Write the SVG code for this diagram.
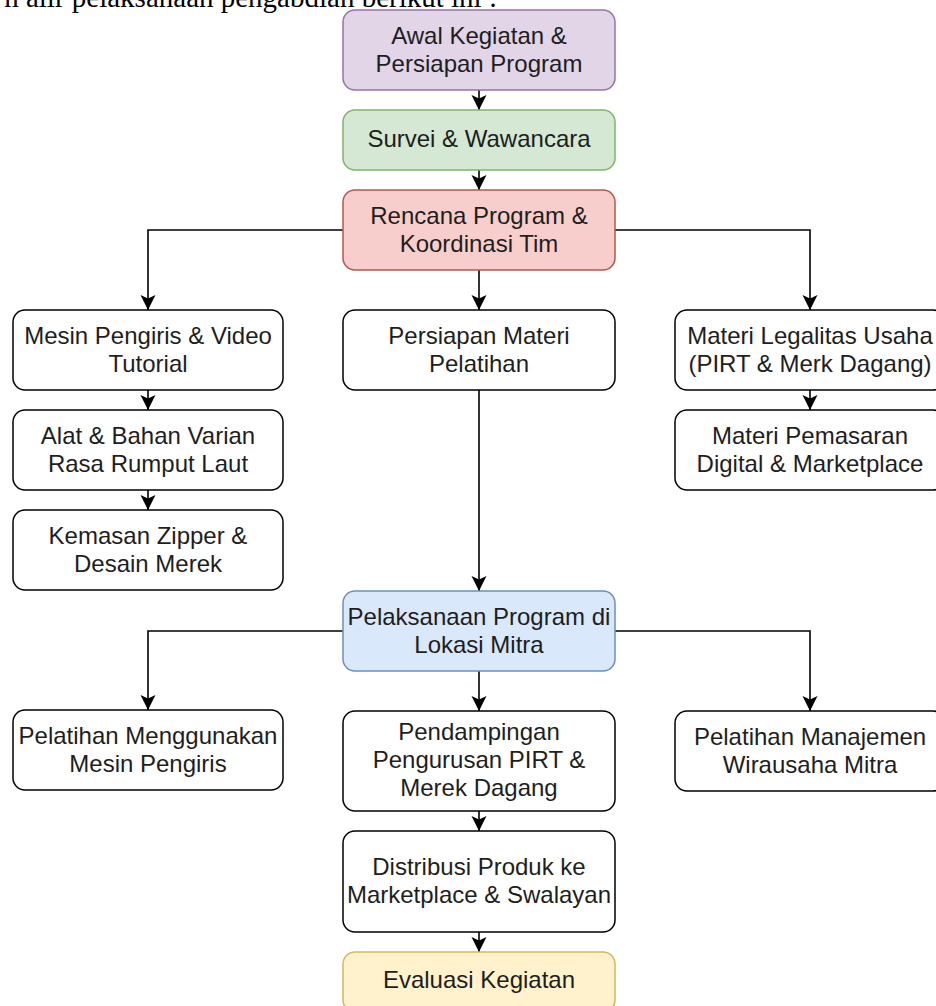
<svg xmlns="http://www.w3.org/2000/svg" width="936" height="1006" viewBox="0 0 936 1006">
<style>
.t{font-family:"Liberation Sans",Arial,sans-serif;font-size:24px;fill:#1e1e1e;text-anchor:middle}
.w{fill:#ffffff;stroke:#000000;stroke-width:1.5}
.c{fill:none;stroke:#000000;stroke-width:1.6}
.top{font-family:"Liberation Serif","Times New Roman",serif;font-size:29px;fill:#000;text-anchor:end}
</style>
<defs>
<marker id="ah" markerUnits="userSpaceOnUse" markerWidth="17" markerHeight="17" refX="15" refY="7.5" orient="auto">
<path d="M0,0 L15,7.5 L0,15 L3.5,7.5 Z" fill="#000"/>
</marker>
</defs>
<rect width="936" height="1006" fill="#ffffff"/>
<text class="top" x="497" y="7">n alir pelaksanaan pengabdian berikut ini :</text>

<g id="connectors">
<path class="c" d="M479,90 V110" marker-end="url(#ah)"/>
<path class="c" d="M479,170 V190" marker-end="url(#ah)"/>
<path class="c" d="M343,230 H148 V310" marker-end="url(#ah)"/>
<path class="c" d="M479,270 V310" marker-end="url(#ah)"/>
<path class="c" d="M615,230 H810 V310" marker-end="url(#ah)"/>
<path class="c" d="M148,390 V410" marker-end="url(#ah)"/>
<path class="c" d="M148,490 V510" marker-end="url(#ah)"/>
<path class="c" d="M810,390 V410" marker-end="url(#ah)"/>
<path class="c" d="M479,390 V591" marker-end="url(#ah)"/>
<path class="c" d="M343,631 H148 V710" marker-end="url(#ah)"/>
<path class="c" d="M479,671 V711" marker-end="url(#ah)"/>
<path class="c" d="M615,631 H810 V711" marker-end="url(#ah)"/>
<path class="c" d="M479,811 V831" marker-end="url(#ah)"/>
<path class="c" d="M479,932 V952" marker-end="url(#ah)"/>
</g>

<g id="awal">
<rect x="343" y="10" width="272" height="80" rx="12" fill="#e1d5e7" stroke="#9673a6" stroke-width="1.5"/>
<text class="t" x="479" y="44">Awal Kegiatan &amp;</text>
<text class="t" x="479" y="72">Persiapan Program</text>
</g>
<g id="survei">
<rect x="343" y="110" width="272" height="60" rx="12" fill="#d5e8d4" stroke="#82b366" stroke-width="1.5"/>
<text class="t" x="479" y="147">Survei &amp; Wawancara</text>
</g>
<g id="rencana">
<rect x="343" y="190" width="272" height="80" rx="12" fill="#f8cecc" stroke="#b85450" stroke-width="1.5"/>
<text class="t" x="479" y="224">Rencana Program &amp;</text>
<text class="t" x="479" y="252">Koordinasi Tim</text>
</g>
<g id="mesin">
<rect class="w" x="13" y="310" width="270" height="80" rx="12"/>
<text class="t" x="148" y="344">Mesin Pengiris &amp; Video</text>
<text class="t" x="148" y="372">Tutorial</text>
</g>
<g id="persiapan">
<rect class="w" x="343" y="310" width="272" height="80" rx="12"/>
<text class="t" x="479" y="344">Persiapan Materi</text>
<text class="t" x="479" y="372">Pelatihan</text>
</g>
<g id="legalitas">
<rect class="w" x="675" y="310" width="270" height="80" rx="12"/>
<text class="t" x="810" y="344">Materi Legalitas Usaha</text>
<text class="t" x="810" y="372">(PIRT &amp; Merk Dagang)</text>
</g>
<g id="alat">
<rect class="w" x="13" y="410" width="270" height="80" rx="12"/>
<text class="t" x="148" y="444">Alat &amp; Bahan Varian</text>
<text class="t" x="148" y="472">Rasa Rumput Laut</text>
</g>
<g id="pemasaran">
<rect class="w" x="675" y="410" width="270" height="80" rx="12"/>
<text class="t" x="810" y="444">Materi Pemasaran</text>
<text class="t" x="810" y="472">Digital &amp; Marketplace</text>
</g>
<g id="kemasan">
<rect class="w" x="13" y="510" width="270" height="80" rx="12"/>
<text class="t" x="148" y="544">Kemasan Zipper &amp;</text>
<text class="t" x="148" y="572">Desain Merek</text>
</g>
<g id="pelaksanaan">
<rect x="343" y="591" width="272" height="80" rx="12" fill="#dae8fc" stroke="#6c8ebf" stroke-width="1.5"/>
<text class="t" x="479" y="625">Pelaksanaan Program di</text>
<text class="t" x="479" y="653">Lokasi Mitra</text>
</g>
<g id="pelatihan-mesin">
<rect class="w" x="13" y="710" width="270" height="80" rx="12"/>
<text class="t" x="148" y="744">Pelatihan Menggunakan</text>
<text class="t" x="148" y="772">Mesin Pengiris</text>
</g>
<g id="pendampingan">
<rect class="w" x="343" y="711" width="272" height="100" rx="12"/>
<text class="t" x="479" y="740">Pendampingan</text>
<text class="t" x="479" y="768">Pengurusan PIRT &amp;</text>
<text class="t" x="479" y="796">Merek Dagang</text>
</g>
<g id="manajemen">
<rect class="w" x="675" y="711" width="270" height="80" rx="12"/>
<text class="t" x="810" y="745">Pelatihan Manajemen</text>
<text class="t" x="810" y="773">Wirausaha Mitra</text>
</g>
<g id="distribusi">
<rect class="w" x="343" y="831" width="272" height="101" rx="12"/>
<text class="t" x="479" y="875">Distribusi Produk ke</text>
<text class="t" x="479" y="903">Marketplace &amp; Swalayan</text>
</g>
<g id="evaluasi">
<rect x="343" y="952" width="272" height="60" rx="12" fill="#fff2cc" stroke="#d6b656" stroke-width="1.5"/>
<text class="t" x="479" y="988">Evaluasi Kegiatan</text>
</g>
</svg>
